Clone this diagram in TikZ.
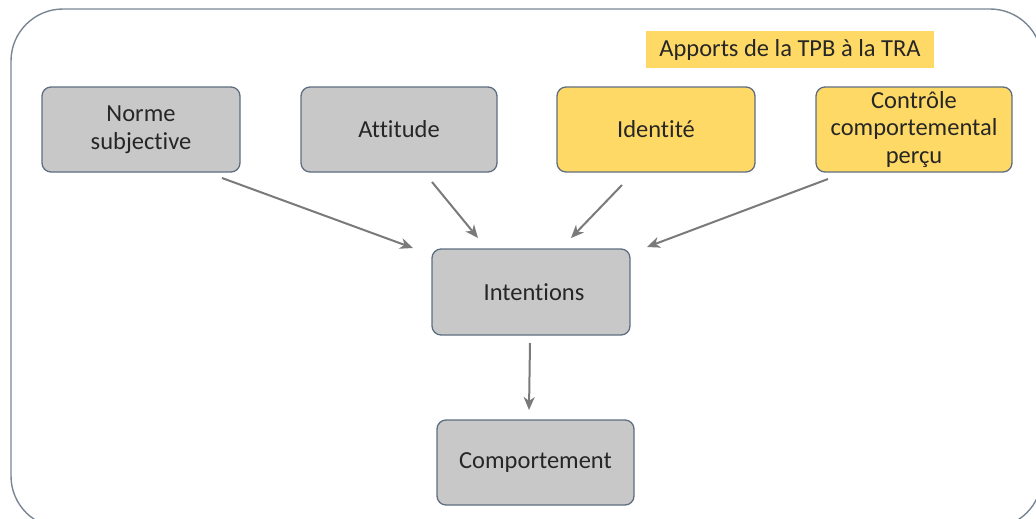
\documentclass[tikz,border=0pt]{standalone}
\usepackage{fontspec}
\setmainfont{Carlito}[Ligatures={NoCommon,NoRequired,NoContextual}]
\usetikzlibrary{arrows.meta}
\definecolor{boxgray}{HTML}{C8C8C8}
\definecolor{boxyellow}{HTML}{FFD966}
\definecolor{edgeblue}{HTML}{5E6E80}
\definecolor{framecol}{HTML}{7A8594}
\definecolor{arrowgray}{HTML}{7A7A7A}
\begin{document}
\begin{tikzpicture}[x=1pt,y=-1pt,
  boxbase/.style={draw=edgeblue, line width=1.3pt, rounded corners=9pt, font=\fontsize{24.5}{27.5}\selectfont, align=center, text=black!85},
  graybox/.style={boxbase, fill=boxgray},
  yellowbox/.style={boxbase, fill=boxyellow},
  conn/.style={draw=arrowgray, line width=2pt, -{Stealth[length=13pt,width=11pt,inset=4pt]}}
]
\useasboundingbox (0,0) rectangle (1036,519);
\begin{scope}
\clip (0,0) rectangle (1036,519);
\draw[framecol, line width=1.4pt, rounded corners=52pt] (11,9) rectangle (1042,528);
\end{scope}
\node[fill=boxyellow, minimum width=288pt, minimum height=37pt, inner sep=0pt, font=\fontsize{24.5}{27}\selectfont, text=black!85] (title) at (790,49.5) {Apports de la TPB à la TRA};
\path[graybox] (42,87) rectangle (240,172) node[midway, boxbase, draw=none, fill=none] (norme) {Norme\\subjective};
\path[graybox] (301,87) rectangle (497,172) node[midway, boxbase, draw=none, fill=none] (attitude) {Attitude};
\path[yellowbox] (557,87) rectangle (755,172) node[midway, boxbase, draw=none, fill=none] (identite) {Identité};
\path[yellowbox] (816,87) rectangle (1012,172) node[midway, boxbase, draw=none, fill=none] (controle) {Contrôle\\comportemental\\perçu};
\path[graybox] (432,249) rectangle (630,335) node[midway, boxbase, draw=none, fill=none, xshift=3pt] (intentions) {Intentions};
\path[graybox] (437,420) rectangle (634,505) node[midway, boxbase, draw=none, fill=none] (comport) {Comportement};
\coordinate (n1) at (222,178); \coordinate (n2) at (413,248);
\coordinate (a1) at (432,182); \coordinate (a2) at (478,238);
\coordinate (i1) at (622,185); \coordinate (i2) at (571,238);
\coordinate (c1) at (828,179); \coordinate (c2) at (647,247);
\coordinate (t1) at (530,343); \coordinate (t2) at (529,410);
\draw[conn] (n1) -- (n2);
\draw[conn] (a1) -- (a2);
\draw[conn] (i1) -- (i2);
\draw[conn] (c1) -- (c2);
\draw[conn] (t1) -- (t2);
\end{tikzpicture}
\end{document}
